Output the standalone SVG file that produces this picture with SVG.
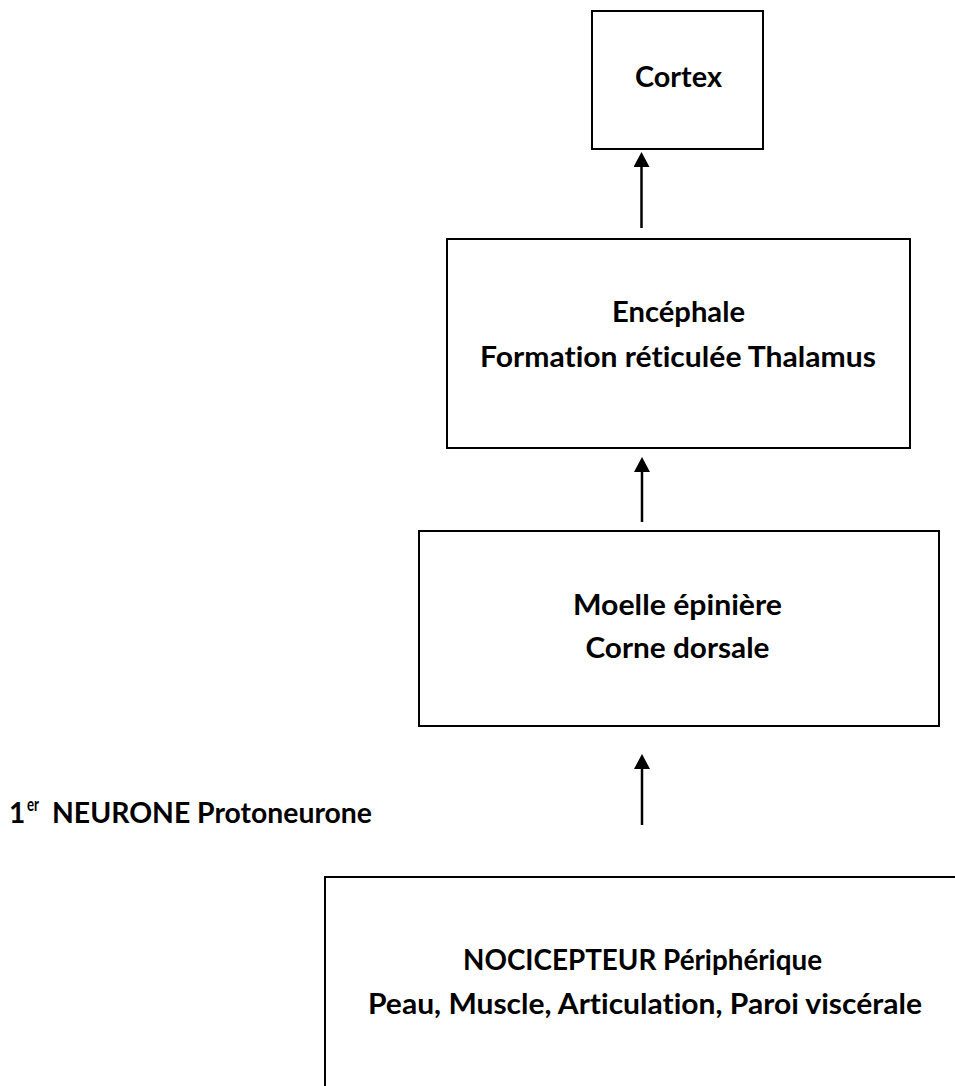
<svg xmlns="http://www.w3.org/2000/svg" width="955" height="1086" viewBox="0 0 955 1086">
  <style>
    .box { fill: #ffffff; stroke: #000000; stroke-width: 2; }
    .lbl { font-family: Lato, "Liberation Sans", sans-serif; font-weight: bold; font-size: 28px; fill: #000000; font-variant-ligatures: none; }
    .sup { font-family: Lato, "Liberation Sans", sans-serif; font-weight: bold; font-size: 18px; fill: #000000; }
    .conn { stroke: #000000; stroke-width: 2.5; fill: none; }
  </style>
  <defs>
    <marker id="arrow" markerUnits="userSpaceOnUse" markerWidth="16" markerHeight="16" refX="0" refY="8" orient="auto">
      <path d="M0,0 L15,8 L0,16 Z" fill="#000000"/>
    </marker>
  </defs>
  <rect x="0" y="0" width="955" height="1086" fill="#ffffff"/>

  <g id="cortex">
    <rect class="box" x="592" y="11" width="171" height="138"/>
    <text class="lbl" x="678.5" y="87" text-anchor="middle" textLength="87" lengthAdjust="spacingAndGlyphs">Cortex</text>
  </g>

  <g id="encephale">
    <rect class="box" x="447" y="239" width="463" height="209"/>
    <text class="lbl" x="678.5" y="322" text-anchor="middle" textLength="133" lengthAdjust="spacingAndGlyphs">Encéphale</text>
    <text class="lbl" x="678" y="367" text-anchor="middle" textLength="396" lengthAdjust="spacingAndGlyphs">Formation réticulée Thalamus</text>
  </g>

  <g id="moelle">
    <rect class="box" x="419" y="531" width="520" height="195"/>
    <text class="lbl" x="677.5" y="615" text-anchor="middle" textLength="209" lengthAdjust="spacingAndGlyphs">Moelle épinière</text>
    <text class="lbl" x="677.5" y="658" text-anchor="middle" textLength="184" lengthAdjust="spacingAndGlyphs">Corne dorsale</text>
  </g>

  <g id="nocicepteur">
    <rect class="box" x="325" y="877" width="660" height="240"/>
    <text class="lbl" x="642.5" y="970" text-anchor="middle" textLength="359" lengthAdjust="spacingAndGlyphs">NOCICEPTEUR Périphérique</text>
    <text class="lbl" x="645" y="1014" text-anchor="middle" textLength="554" lengthAdjust="spacingAndGlyphs">Peau, Muscle, Articulation, Paroi viscérale</text>
  </g>

  <g id="protoneurone-label">
    <text class="lbl" x="9" y="823">1</text>
    <text class="sup" x="27" y="811" textLength="12" lengthAdjust="spacingAndGlyphs">er</text>
    <text class="lbl" x="52" y="823" textLength="320" lengthAdjust="spacingAndGlyphs">NEURONE Protoneurone</text>
  </g>

  <g id="connectors">
    <line class="conn" x1="641.5" y1="228" x2="641.5" y2="167" marker-end="url(#arrow)"/>
    <line class="conn" x1="642" y1="522" x2="642" y2="472" marker-end="url(#arrow)"/>
    <line class="conn" x1="642" y1="825" x2="642" y2="769" marker-end="url(#arrow)"/>
  </g>
</svg>
